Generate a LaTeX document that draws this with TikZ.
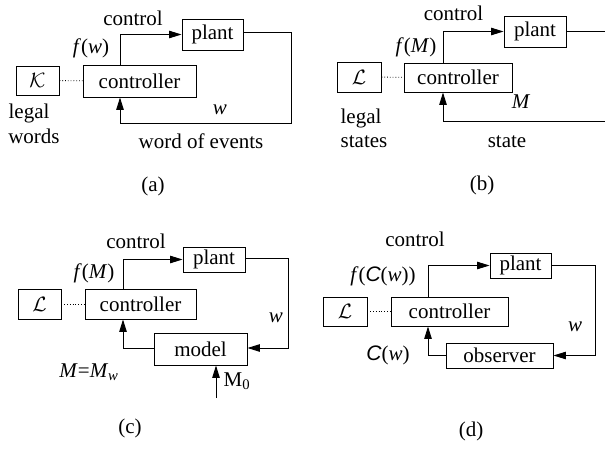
\documentclass[tikz,border=0pt]{standalone}
\usepackage{fontspec}
\setmainfont{Liberation Serif}
\newfontfamily\serif{Liberation Serif}
\newfontfamily\helv{Liberation Sans}
\usetikzlibrary{arrows.meta}
\newcommand{\Cw}{{\helv\itshape C}}
\tikzset{
  box/.style={draw, line width=0.9pt, inner sep=0pt, minimum width=#1},
  box/.default=40pt,
  lbl/.style={anchor=base, inner sep=0pt},
  link/.style={line width=0.9pt},
  flow/.style={line width=0.9pt, -{Triangle[length=12.5pt,width=7.5pt]}},
  legal/.style={dotted, line width=0.8pt},
}
\begin{document}
\begin{tikzpicture}[x=1pt,y=-1pt,font=\serif\fontsize{21}{25}\selectfont]
\useasboundingbox (0,0) rectangle (605,450);

% ---------- (a) legal words ----------
\node[box=43pt, minimum height=29pt] (aK) at (37.5,80.5) {$\mathcal{K}$};
\node[box=113pt, minimum height=32pt] (aC) at (139.5,81) {controller};
\node[box=61pt, minimum height=31pt] (aP) at (212.5,34.5) {plant};
\coordinate (aU) at (120,34.5);
\coordinate (aR1) at (291,32);
\coordinate (aR2) at (291,123);
\coordinate (aB) at (120,123);
\draw[legal] (aK) -- (aC);
\draw[flow] (aC.north -| aU) -- (aU) -- (aP.west);
\draw[link] (aP.east |- aR1) -- (aR1) -- (aR2) -- (aB);
\draw[flow] (aB) -- (aC.south -| aB);
\node[lbl] (aTc) at (133,25) {control};
\node[lbl] (aTf) at (91,53) {\textit{f}(\textit{w})};
\node[lbl] (aTw) at (220,114) {\textit{w}};
\node[lbl] (aTl) at (29,118) {legal};
\node[lbl] (aTwd) at (34,143) {words};
\node[lbl] (aTe) at (201,148) {word of events};
\node[lbl] (aTa) at (153,191) {(a)};

% ---------- (b) legal states ----------
\node[box=44pt, minimum height=30pt] (bL) at (359,77) {$\mathcal{L}$};
\node[box=108pt, minimum height=29pt] (bC) at (458,77.5) {controller};
\node[box=62pt, minimum height=31pt] (bP) at (535,31.5) {plant};
\coordinate (bU) at (443,31.5);
\coordinate (bR) at (605,31.5);
\coordinate (bF) at (605,121);
\coordinate (bB) at (443,121);
\draw[legal] (bL) -- (bC);
\draw[flow] (bC.north -| bU) -- (bU) -- (bP.west);
\draw[link] (bP.east) -- (bR);
\draw[link] (bF) -- (bB);
\draw[flow] (bB) -- (bC.south -| bB);
\node[lbl] (bTc) at (453.5,20) {control};
\node[lbl] (bTf) at (416,52) {\textit{f}(\textit{M})};
\node[lbl] (bTm) at (521,108) {\textit{M}};
\node[lbl] (bTl) at (361,123) {legal};
\node[lbl] (bTs) at (364,147) {states};
\node[lbl] (bTt) at (507,147) {state};
\node[lbl] (bTb) at (482,190) {(b)};

% ---------- (c) model ----------
\node[box=43pt, minimum height=30pt] (cL) at (39.5,304) {$\mathcal{L}$};
\node[box=111pt, minimum height=30pt] (cC) at (140.5,304) {controller};
\node[box=62pt, minimum height=25pt] (cP) at (214,259.5) {plant};
\node[box=93pt, minimum height=32pt] (cM) at (200.5,349) {model};
\coordinate (cU) at (123,259.5);
\coordinate (cR1) at (288,258);
\coordinate (cR2) at (288,348);
\coordinate (cB) at (123,348);
\coordinate (cM0) at (216,398);
\draw[legal] (cL) -- (cC);
\draw[flow] (cC.north -| cU) -- (cU) -- (cP.west);
\draw[flow] (cP.east |- cR1) -- (cR1) -- (cR2) -- (cM.east |- cR2);
\draw[flow] (cM.west |- cB) -- (cB) -- (cC.south -| cB);
\draw[flow] (cM0) -- (cM.south -| cM0);
\node[lbl] (cTc) at (136,248) {control};
\node[lbl] (cTf) at (94,278) {\textit{f}(\textit{M})};
\node[lbl] (cTw) at (276,322) {\textit{w}};
\node[lbl] (cTm) at (89,377) {\textit{M}=\textit{M}\textsubscript{\textit{w}}};
\node[lbl] (cT0) at (237,386) {M\textsubscript{0}};
\node[lbl] (cTcc) at (130,433) {(c)};

% ---------- (d) observer ----------
\node[box=44pt, minimum height=29pt] (dL) at (345,311.5) {$\mathcal{L}$};
\node[box=117pt, minimum height=29pt] (dC) at (449.5,311.5) {controller};
\node[box=61pt, minimum height=25pt] (dP) at (520.5,265.5) {plant};
\node[box=107pt, minimum height=25pt] (dO) at (499.5,355.5) {observer};
\coordinate (dU) at (428,265.5);
\coordinate (dR1) at (595,265.5);
\coordinate (dR2) at (595,355.5);
\coordinate (dB) at (428,355.5);
\draw[legal] (dL) -- (dC);
\draw[flow] (dC.north -| dU) -- (dU) -- (dP.west);
\draw[flow] (dP.east) -- (dR1) -- (dR2) -- (dO.east);
\draw[flow] (dO.west) -- (dB) -- (dC.south -| dB);
\node[lbl] (dTc) at (415,246) {control};
\node[lbl] (dTf) at (383,281) {\textit{f}(\Cw(\textit{w}))};
\node[lbl] (dTcw) at (388,360) {\Cw(\textit{w})};
\node[lbl] (dTw) at (575,331) {\textit{w}};
\node[lbl] (dTd) at (471,436) {(d)};
\end{tikzpicture}
\end{document}
